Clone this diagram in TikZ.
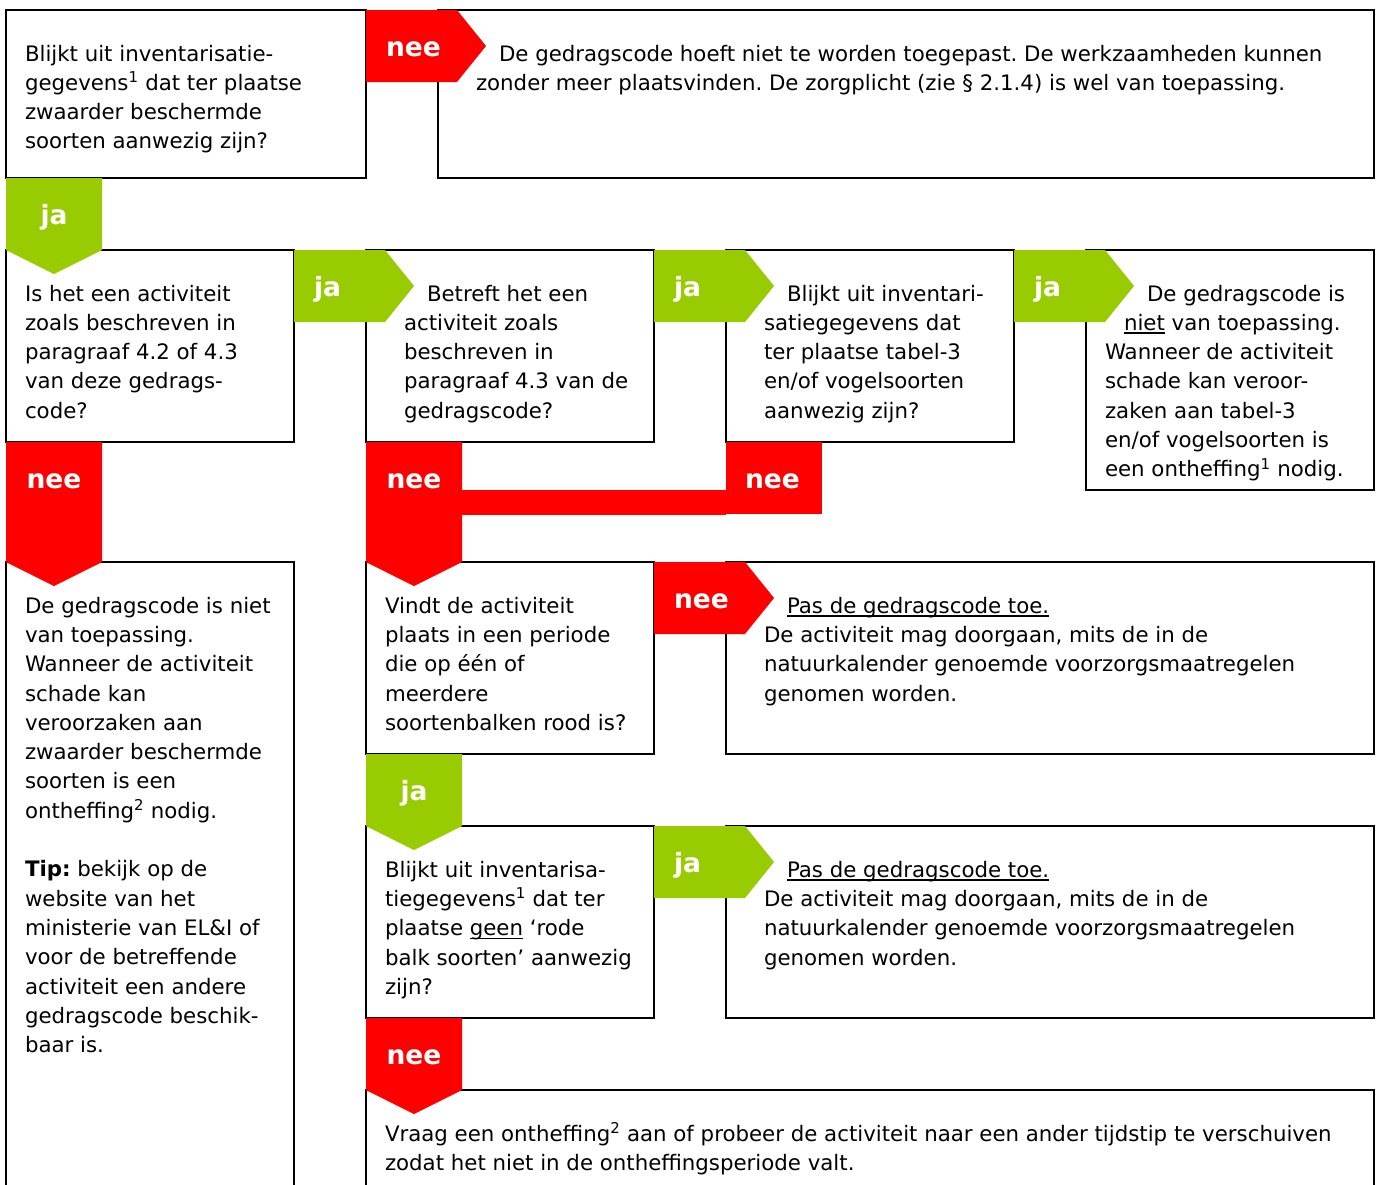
\documentclass[tikz,border=0pt]{standalone}
\usepackage{fontspec}
\setmainfont{DejaVu Sans}
\usetikzlibrary{calc,fit}
\frenchspacing
\definecolor{nred}{HTML}{FF0000}
\definecolor{jgreen}{HTML}{99CC00}
\newcommand\txtlines[1]{\begin{tabular}[t]{@{}l@{}}#1\end{tabular}}
\newcommand\myul[1]{\setbox0\hbox{#1}\rlap{\rule[-3.6pt]{\wd0}{1.5pt}}\box0\relax}
\tikzset{
  box/.style={draw=black, line width=1.6pt, inner sep=0pt, outer sep=0pt},
  txt/.style={anchor=base west, inner sep=0pt, outer sep=0pt, text=black,
    font=\fontsize{21.3}{29.33}\selectfont},
  lbl/.style={inner sep=0pt, outer sep=0pt, text=white,
    font=\bfseries\fontsize{26.5}{30}\selectfont},
}
% right-pointing label arrow: name, x, y, colour, label
\newcommand\arrR[5]{%
  \fill[#4] (#2,#3) -- ++(91,0) -- ++(29,36) -- ++(-29,36) -- ++(-91,0) -- cycle;
  \node[lbl, anchor=base west] (#1) at ($(#2,#3)+(20,46)$) {#5};}
% down-pointing label arrow: name, x, y, straight height, colour, label
\newcommand\arrD[6]{%
  \fill[#5] (#2,#3) -- ++(96,0) -- ++(0,#4) -- ++(-48,24) -- ++(-48,-24) -- cycle;
  \node[lbl, anchor=base] (#1) at ($(#2,#3)+(48,46)$) {#6};}
\begin{document}
\begin{tikzpicture}[x=1pt,y=-1pt]
\useasboundingbox (0,0) rectangle (1381,1184);
\clip (0,0) rectangle (1381,1184);
\fill[white] (0,0) rectangle (1381,1184);
% boxes
\node[box, fit={(6,10)(366,178)}] (bA) {};
\node[box, fit={(438,10)(1374,178)}] (bB) {};
\node[box, fit={(6,250)(294,442)}] (bC) {};
\node[box, fit={(366,250)(654,442)}] (bD) {};
\node[box, fit={(726,250)(1014,442)}] (bE) {};
\node[box, fit={(1086,250)(1374,490)}] (bF) {};
\node[box, fit={(6,562)(294,1200)}] (bG) {};
\node[box, fit={(366,562)(654,754)}] (bH) {};
\node[box, fit={(726,562)(1374,754)}] (bI) {};
\node[box, fit={(366,826)(654,1018)}] (bJ) {};
\node[box, fit={(726,826)(1374,1018)}] (bK) {};
\node[box, fit={(366,1090)(1374,1200)}] (bL) {};
% texts
\node[txt] (tA) at (25,61) {\txtlines{Blijkt uit inventarisatie-\\
gegevens\textsuperscript{1} dat ter plaatse\\
zwaarder beschermde\\
soorten aanwezig zijn?}};
\node[txt] (tB) at (476,61) {\txtlines{\hspace*{23pt}De gedragscode hoeft niet te worden toegepast. De werkzaamheden kunnen\\
zonder meer plaatsvinden. De zorgplicht (zie § 2.1.4) is wel van toepassing.}};
\node[txt] (tC) at (25,301) {\txtlines{Is het een activiteit\\
zoals beschreven in\\
paragraaf 4.2 of 4.3\\
van deze gedrags-\\
code?}};
\node[txt] (tD) at (404,301) {\txtlines{\hspace*{23pt}Betreft het een\\
activiteit zoals\\
beschreven in\\
paragraaf 4.3 van de\\
gedragscode?}};
\node[txt] (tE) at (764,301) {\txtlines{\hspace*{23pt}Blijkt uit inventari-\\
satiegegevens dat\\
ter plaatse tabel-3\\
en/of vogelsoorten\\
aanwezig zijn?}};
\node[txt] (tF) at (1105,301) {\txtlines{\hspace*{42pt}De gedragscode is\\
\hspace*{19pt}\myul{niet} van toepassing.\\
Wanneer de activiteit\\
schade kan veroor-\\
zaken aan tabel-3\\
en/of vogelsoorten is\\
een ontheffing\textsuperscript{1} nodig.}};
\node[txt] (tG) at (25,613) {\txtlines{De gedragscode is niet\\
van toepassing.\\
Wanneer de activiteit\\
schade kan\\
veroorzaken aan\\
zwaarder beschermde\\
soorten is een\\
ontheffing\textsuperscript{2} nodig.\\
\\
\textbf{Tip:} bekijk op de\\
website van het\\
ministerie van EL\&I of\\
voor de betreffende\\
activiteit een andere\\
gedragscode beschik-\\
baar is.}};
\node[txt] (tH) at (385,613) {\txtlines{Vindt de activiteit\\
plaats in een periode\\
die op één of\\
meerdere\\
soortenbalken rood is?}};
\node[txt] (tI) at (764,613) {\txtlines{\hspace*{23pt}\myul{Pas de gedragscode toe.}\\
De activiteit mag doorgaan, mits de in de\\
natuurkalender genoemde voorzorgsmaatregelen\\
genomen worden.}};
\node[txt] (tJ) at (385,877) {\txtlines{Blijkt uit inventarisa-\\
tiegegevens\textsuperscript{1} dat ter\\
plaatse \myul{geen} ‘rode\\
balk soorten’ aanwezig\\
zijn?}};
\node[txt] (tK) at (764,877) {\txtlines{\hspace*{23pt}\myul{Pas de gedragscode toe.}\\
De activiteit mag doorgaan, mits de in de\\
natuurkalender genoemde voorzorgsmaatregelen\\
genomen worden.}};
\node[txt] (tL) at (385,1141) {\txtlines{Vraag een ontheffing\textsuperscript{2} aan of probeer de activiteit naar een ander tijdstip te verschuiven\\
zodat het niet in de ontheffingsperiode valt.}};
% label arrows
\arrR{n1}{366}{10}{nred}{nee}
\arrD{j1}{6}{178}{72}{jgreen}{ja}
\arrR{j2}{294}{250}{jgreen}{ja}
\arrR{j3}{654}{250}{jgreen}{ja}
\arrR{j4}{1014}{250}{jgreen}{ja}
\arrD{n2}{6}{442}{120}{nred}{nee}
\arrD{n3}{366}{442}{120}{nred}{nee}
\fill[nred] (726,442) rectangle (822,514);
\fill[nred] (462,490) rectangle (726,515);
\node[lbl, anchor=base west] (n4) at (745,488) {nee};
\arrR{n5}{654}{562}{nred}{nee}
\arrD{j5}{366}{754}{72}{jgreen}{ja}
\arrR{j6}{654}{826}{jgreen}{ja}
\arrD{n6}{366}{1018}{72}{nred}{nee}
\end{tikzpicture}
\end{document}
